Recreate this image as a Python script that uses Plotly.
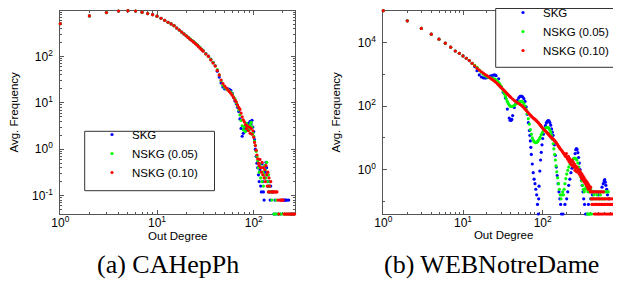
import plotly.graph_objects as go

# ---------------- CAHepPh (left) ----------------
cah_skg_deg = [1,2,3,4,5,6,7,8,9,10,11,12,13,14,15,16,17,18,19,20,21,22,23,24,25,26,27,28,29,30,
               32,34,36,38,40,42,44,46,48,50,52,54,56,58,60,62,64,66,68,70,72,74,76,78,80,82,84,86,88,90,
               92,94,96,98,100,102,104,106,108,110,112,114,116,118,120,122,124,126,128,130,132,134,136,138,140,
               142,144,146,148,150,154,158,162,166,170,180,190,200,205,210,215,220,230,240,250,260,270]
cah_skg_val = [510,750,885,955,970,955,900,840,795,738,667,603,547,502,461,411,372,336,306,280,257,238,220,206,191,178,165,153,143,133,
               115,102,88,75,63,48,36,27,22,20,20,20,19.5,18.5,16,13,11,9.5,8,6.5,4.5,2.8,1.9,2.2,2.8,3.0,3.4,2.6,3.6,3.2,
               4.0,3.5,4.2,3.0,2.4,1.6,1.0,0.7,0.5,0.4,0.28,0.2,0.36,0.16,0.12,0.48,0.2,0.12,0.08,0.24,0.32,0.52,0.4,0.2,0.28,
               0.16,0.12,0.2,0.08,0.16,0.12,0.12,0.04,0.08,0.04,0.04,0.04,0.08,0.08,0.08,0.08,0.08,0.08,0.04,0.04,0.04,0.04]

cah_n05_deg = [1,2,3,4,5,6,7,8,9,10,11,12,13,14,15,16,17,18,19,20,21,22,23,24,25,26,27,28,29,30,
               32,34,36,38,40,42,44,46,48,50,52,54,56,58,60,62,64,66,68,70,72,74,76,78,80,82,84,86,88,90,
               92,94,96,98,100,102,104,106,108,110,112,114,116,118,120,122,124,126,128,130,132,134,136,138,140,
               142,144,146,148,150,154,158,162,166,170,175,180,190,200,210,220,230,240,250,260]
cah_n05_val = [510,750,885,955,970,955,900,840,795,738,667,603,547,502,461,411,372,336,307,281,258,239,221,207,192,179,166,154,143,132,
               114,101,87,74,63,52,40,30,24,21.5,20,19,18,17,15.5,13.5,12,10,8.5,7,5.5,4.2,3.2,2.6,3.0,2.4,3.6,2.8,3.2,2.6,
               3.4,3.8,3.0,2.2,1.9,1.5,1.2,0.9,0.7,0.56,0.4,0.32,0.48,0.24,0.4,0.2,0.32,0.16,0.28,0.44,0.36,0.24,0.52,0.2,0.16,
               0.28,0.12,0.16,0.2,0.12,0.08,0.12,0.04,0.04,0.08,0.04,0.04,0.04,0.04,0.04,0.04,0.04,0.04,0.04,0.04]

cah_n10_deg = [1,2,3,4,5,6,7,8,9,10,11,12,13,14,15,16,17,18,19,20,21,22,23,24,25,26,27,28,29,30,
               32,34,36,38,40,42,44,46,48,50,52,54,56,58,60,62,64,66,68,70,72,74,76,78,80,82,84,86,88,90,
               92,94,96,98,100,102,104,106,108,110,112,114,116,118,120,122,124,126,128,130,132,134,136,138,140,
               142,144,146,148,150,154,158,162,166,170,174,178,182,186,190,194,198,202,206,210,215,220,225,230,
               235,240,245,250,255,260,265,270]
cah_n10_val = [510,750,885,955,970,955,900,840,795,738,667,603,547,502,461,411,372,336,305,278,255,235,218,203,188,175,162,150,140,130,
               113,100,84,72,62,50,40,31,26,23,21,19,17.5,16,14.5,13,11.5,10.5,9,8,7.2,6,5,4.3,3.9,3.4,2.8,3.2,2.5,3.0,
               2.2,2.8,2.1,2.5,1.8,1.4,1.2,0.95,0.75,0.62,0.5,0.44,0.6,0.4,0.32,0.52,0.28,0.4,0.24,0.36,0.2,0.44,0.28,0.16,0.32,
               0.12,0.24,0.16,0.12,0.2,0.12,0.12,0.12,0.12,0.12,0.12,0.08,0.04,0.08,0.08,0.08,0.08,0.08,0.04,0.04,0.04,0.04,0.04,0.04,
               0.04,0.04,0.04,0.04,0.04,0.04,0.04,0.04]

# ---------------- WEBNotreDame (right) ----------------
web_skg_deg = [1,2,3,4,5,6,7,8,9,10,11,12,13,14,15,16,17,18,19,20,21,22,23,24,25,26,28,30,32,34,36,38,39,40,41,42,44,46,48,50,
               52,54,56,58,60,62,64,66,68,69,70,71,72,74,76,78,80,82,84,86,88,89,90,92,94,96,98,100,102,105,108,111,114,117,120,
               123,126,129,132,135,140,144,148,152,156,160,164,168,172,180,190,200,206,212,219,226,233,241,248,255,260,265,270,
               276,282,288,294,300,306,313,320,327,335,345,360,375,400,420,445,470,500,530,555,575,590,600,610,620,635,650,680]
web_skg_val = [100000,48000,27700,18300,12700,9500,7100,5400,4570,3770,3190,2690,2210,1750,1300,950,820,770,760,780,820,870,910,940,950,900,720,400,270,180,80,42,36,35,38,50,
               90,120,150,180,200,205,195,170,140,95,55,30,17,12,8,5,3,1.5,0.8,0.5,0.36,0.24,0.16,0.08,0.04,0.12,0.3,0.9,2,3.5,6,9.5,13,18,24,29,33,35,34,
               30,25,19,15,12,6,2.8,1.2,0.65,0.36,0.2,0.12,0.08,0.04,0.04,0.08,0.12,0.2,0.32,0.5,0.8,1.1,1.4,2.2,3.2,4.2,4.6,4.3,
               3.4,2.4,1.6,1.0,0.7,0.45,0.32,0.2,0.12,0.08,0.04,0.04,0.08,0.12,0.16,0.2,0.2,0.16,0.2,0.28,0.36,0.44,0.48,0.4,0.32,0.24,0.16,0.12]

web_n05_deg = [1,2,3,4,5,6,7,8,9,10,11,12,13,14,15,16,17,18,19,20,21,22,23,24,25,26,27,28,29,30,31,32,33,34,35,36,37,38,39,40,
               42,44,46,48,50,52,54,56,58,60,62,64,66,68,70,72,74,76,78,80,82,84,86,88,90,93,96,99,102,105,108,111,114,117,120,
               123,126,129,132,135,138,141,144,147,150,154,158,162,166,170,174,178,182,186,190,195,200,206,212,220,228,236,244,252,260,
               268,276,284,292,300,308,316,324,332,340,350,360,365,370,375,380,385,390,395,400,405,410,420,430,440,460,470,480,500,515,
               530,545,560,575,590,605,620,650,665]
web_n05_val = [100000,48000,27700,18300,12700,9500,7100,5400,4570,3770,3190,2690,2210,1900,1650,1350,1150,1000,900,830,790,770,750,730,700,660,610,550,490,420,350,290,240,200,165,140,120,108,100,97,
               98,105,115,125,135,140,140,135,120,100,78,58,40,27,18,13,10,8.5,7.6,7.2,7.0,7.2,7.6,8.2,9,10.5,12.5,14.5,16.5,18.5,20,21,21.5,21,19.5,
               17.5,15,12,9,6.5,4.5,3,2,1.3,0.85,0.55,0.36,0.24,0.16,0.12,0.16,0.2,0.16,0.24,0.36,0.52,0.72,0.95,1.2,1.5,1.8,2.0,2.2,2.3,2.2,
               2.0,1.6,1.2,0.85,0.6,0.44,0.32,0.24,0.2,0.24,0.28,0.24,0.04,0.2,0.04,0.28,0.04,0.2,0.04,0.24,0.12,0.04,0.2,0.12,0.16,0.2,0.12,0.16,0.2,0.12,
               0.16,0.12,0.2,0.12,0.2,0.12,0.2,0.2,0.2]

web_n10_deg = [1,2,3,4,5,6,7,8,9,10,11,12,13,14,15,16,17,18,19,20,21,22,23,24,25,26,27,28,29,30,31,32,33,34,35,36,37,38,39,40,
               42,44,46,48,50,52,54,56,58,60,62,64,66,68,70,72,74,76,78,80,82,84,86,88,90,92,94,96,98,100,103,106,109,112,115,118,121,124,127,130,
               133,136,139,142,145,148,151,154,157,160,163,166,170,174,178,182,186,190,194,198,202,206,210,214,218,222,226,230,234,238,242,246,250,
               254,258,262,266,270,275,280,285,290,295,300,305,310,315,320,325,330,335,340,345,350,355,360,365,370,375,380,385,390,395,400,
               405,410,415,420,425,430,435,440,445,450,455,460,465,470,475,480,485,490,495,500,505,510,515,520,525,530,540,545,550,555,565,570,575,580,
               590,600,610,620,630,640,650,660,670,680,690,700,710,720,730,740,760,770,790,800,820,840,850,870,880,900,910,930,950,970,985,1000]
web_n10_val = [100000,48000,27700,18300,12700,9500,7100,5400,4570,3770,3190,2690,2210,1850,1550,1350,1200,1080,980,900,830,760,700,650,600,550,500,460,420,385,355,330,305,280,260,240,225,210,197,185,
               165,150,138,128,120,112,105,97,88,80,73,67,61,56,52,48,45,42,40,38,36,34,32,30,28,26,24.5,23,21.5,20,18.5,17,16,15,14,13,12,11.2,10.5,10,
               9.5,9,8.4,8,7.5,7,6.5,6,5.5,5.2,4.8,4.5,4.2,3.9,3.6,3.3,3.1,2.8,2.6,3.2,2.4,2.1,2.6,1.8,2.2,1.6,1.9,1.4,2.0,1.3,1.7,1.2,1.5,
               0.95,1.3,1.1,0.85,1.2,0.9,1.0,0.75,0.95,0.65,0.8,0.55,0.72,0.5,0.64,0.45,0.56,0.4,0.48,0.36,0.44,0.32,0.4,0.28,0.36,0.24,0.32,0.28,0.24,0.2,0.28,
               0.2,0.12,0.08,0.2,0.12,0.08,0.2,0.12,0.04,0.2,0.08,0.12,0.04,0.2,0.08,0.12,0.04,0.2,0.08,0.12,0.04,0.2,0.08,0.12,0.04,0.2,0.08,0.12,0.04,0.2,
               0.08,0.12,0.04,0.2,0.08,0.12,0.04,0.08,0.12,0.04,0.08,0.12,0.04,0.08,0.12,0.04,0.08,0.12,0.04,0.08,0.12,0.04,0.08,0.04,0.08,0.04,0.08,0.04,0.08,0.04,
               0.08,0.04,0.08,0.04,0.04,0.04]

series_names = ["SKG", "NSKG (0.05)", "NSKG (0.10)"]
series_colors = ["#0000ff", "#00ff00", "#ff0000"]

cah_y_ticks = [0.1, 1, 10, 100]
cah_y_text = ["10<sup>-1</sup>", "10<sup>0</sup>", "10<sup>1</sup>", "10<sup>2</sup>"]
cah_x_ticks = [1, 10, 100]
cah_x_text = ["10<sup>0</sup>", "10<sup>1</sup>", "10<sup>2</sup>"]
web_y_ticks = [1, 100, 10000]
web_y_text = ["10<sup>0</sup>", "10<sup>2</sup>", "10<sup>4</sup>"]
web_x_ticks = [1, 10, 100, 1000]
web_x_text = ["10<sup>0</sup>", "10<sup>1</sup>", "10<sup>2</sup>", "10<sup>3</sup>"]

W, H = 621, 286
def px(x): return x / W
def py(y): return 1 - y / H

fig = go.Figure()
left = [(cah_skg_deg, cah_skg_val), (cah_n05_deg, cah_n05_val), (cah_n10_deg, cah_n10_val)]
right = [(web_skg_deg, web_skg_val), (web_n05_deg, web_n05_val), (web_n10_deg, web_n10_val)]
for i, (d, v) in enumerate(left):
    fig.add_trace(go.Scatter(x=d, y=v, mode="markers", name=series_names[i], xaxis="x", yaxis="y",
                             marker=dict(color=series_colors[i], size=3.2, line=dict(width=0)),
                             cliponaxis=False, legend="legend"))
for i, (d, v) in enumerate(right):
    fig.add_trace(go.Scatter(x=d, y=v, mode="markers", name=series_names[i], xaxis="x2", yaxis="y2",
                             marker=dict(color=series_colors[i], size=3.2, line=dict(width=0)),
                             cliponaxis=False, legend="legend2"))

font_main = "Liberation Sans, Arial, sans-serif"
axcol = "#555555"

def minor_vals(lo, hi):
    out = []
    for e in range(lo, hi):
        for m in range(2, 10):
            out.append(m * 10 ** e)
    return out

common = dict(type="log", showgrid=False, zeroline=False, showline=True, linecolor=axcol, linewidth=1,
              mirror="allticks", ticks="inside", ticklen=4, tickcolor=axcol, layer="below traces",
              tickfont=dict(family=font_main, size=12, color="#000"), automargin=False)

fig.update_layout(
    width=W, height=H, margin=dict(l=0, r=0, t=0, b=0, autoexpand=False),
    paper_bgcolor="white", plot_bgcolor="white",
    font=dict(family=font_main, color="#000"),
    xaxis=dict(**common, domain=[px(52.3), px(287.3)], anchor="y",
               range=[0, 2.43], tickvals=cah_x_ticks, ticktext=cah_x_text, ticklabelstandoff=-2,
               minor=dict(tickvals=minor_vals(0, 3), ticks="inside", ticklen=2, tickcolor=axcol),
               title=dict(text="Out Degree", font=dict(size=11.5), standoff=1)),
    yaxis=dict(**common, domain=[py(206), py(2.7)], anchor="x",
               range=[-1.398, 2.987], tickvals=cah_y_ticks, ticktext=cah_y_text, ticklabelstandoff=4,
               minor=dict(tickvals=minor_vals(-2, 3), ticks="inside", ticklen=2, tickcolor=axcol),
               title=dict(text="Avg. Frequency", font=dict(size=11.5), standoff=12)),
    xaxis2=dict(**common, domain=[px(375.3), px(616)], anchor="y2",
                range=[0, 3.02], tickvals=web_x_ticks, ticktext=web_x_text, ticklabelstandoff=-2,
                minor=dict(tickvals=minor_vals(0, 4), ticks="inside", ticklen=2, tickcolor=axcol),
                title=dict(text="Out Degree", font=dict(size=11.5), standoff=1)),
    yaxis2=dict(**common, domain=[py(206), py(2.7)], anchor="x2",
                range=[-1.398, 5.0], tickvals=web_y_ticks, ticktext=web_y_text, ticklabelstandoff=4,
                minor=dict(tickvals=[0.1, 10, 1000, 100000], ticks="inside", ticklen=2, tickcolor=axcol),
                title=dict(text="Avg. Frequency", font=dict(size=11.5), standoff=14)),
    legend=dict(x=px(84), y=py(112), xanchor="left", yanchor="top", bgcolor="rgba(0,0,0,0)",
                borderwidth=0, font=dict(family=font_main, size=11.5)),
    legend2=dict(x=px(495), y=py(-10), xanchor="left", yanchor="top", bgcolor="rgba(0,0,0,0)",
                 borderwidth=0, font=dict(family=font_main, size=11.5)),
    shapes=[
        dict(type="rect", xref="paper", yref="paper", x0=px(76.7), x1=px(206.5), y0=py(182.7), y1=py(123.3),
             line=dict(color="#333333", width=1), fillcolor="white", layer="above"),
        dict(type="rect", xref="paper", yref="paper", x0=px(487.7), x1=px(616.5), y0=py(59.3), y1=py(0.5),
             line=dict(color="#333333", width=1), fillcolor="white", layer="above"),
    ],
    annotations=[
        dict(text="(a) CAHepPh", xref="paper", yref="paper", x=px(160), y=py(256), xanchor="center", yanchor="middle",
             showarrow=False, font=dict(family="Liberation Serif, serif", size=26, color="#000")),
        dict(text="(b) WEBNotreDame", xref="paper", yref="paper", x=px(483), y=py(256), xanchor="center", yanchor="middle",
             showarrow=False, font=dict(family="Liberation Serif, serif", size=26, color="#000")),
    ],
)

fig.write_html("out.html")
